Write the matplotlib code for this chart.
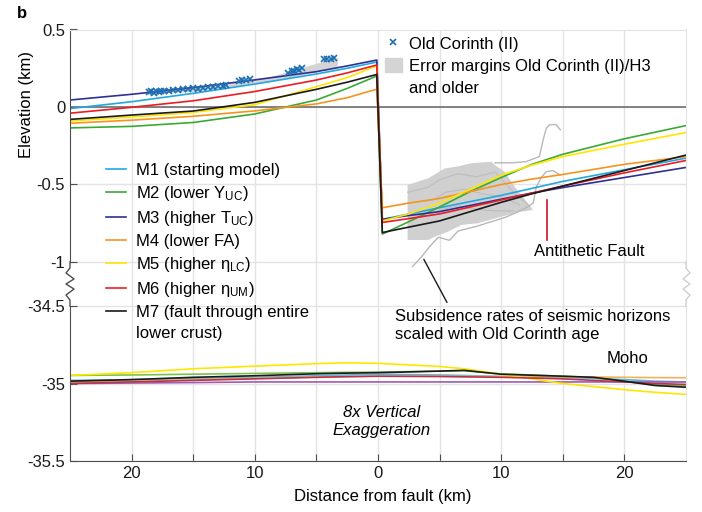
import matplotlib.pyplot as plt
from matplotlib.lines import Line2D
from matplotlib.patches import ConnectionPatch, Patch

plt.rcParams["font.family"] = ["Liberation Sans", "DejaVu Sans"]
plt.rcParams["axes.unicode_minus"] = False
plt.rcParams["mathtext.fontset"] = "custom"
plt.rcParams["mathtext.rm"] = "Liberation Sans"
plt.rcParams["mathtext.it"] = "Liberation Sans:italic"

# ---- data ---------------------------------------------------------------
models = ["M1", "M2", "M3", "M4", "M5", "M6", "M7"]
labels = [
    "M1 (starting model)",
    "M2 (lower Y$_{\\rm UC}$)",
    "M3 (higher T$_{\\rm UC}$)",
    "M4 (lower FA)",
    "M5 (higher η$_{\\rm LC}$)",
    "M6 (higher η$_{\\rm UM}$)",
    "M7 (fault through entire",
]
label_tail = "lower crust)"
colors = ["#22a8e0", "#3aaa35", "#2e3192", "#f7941d", "#ffe600", "#ed1c24", "#1a1a1a"]
moho_colors = ["#4fb6e3", "#7cc24a", "#a05cb0", "#f2b25a", "#ffe600", "#b8334f", "#1a1a1a"]

# footwall (x < 0) and hanging wall (x > 0) surface elevation, km
foot_x = [-25, -20, -15, -10, -5, -2.5, -0.1]
foot_y = {
    "M1": [-0.01, 0.034, 0.088, 0.148, 0.213, 0.25, 0.29],
    "M2": [-0.135, -0.125, -0.10, -0.045, 0.045, 0.12, 0.20],
    "M3": [0.045, 0.082, 0.125, 0.175, 0.228, 0.265, 0.303],
    "M4": [-0.105, -0.085, -0.06, -0.025, 0.02, 0.06, 0.115],
    "M5": [-0.09, -0.065, -0.035, 0.015, 0.131, 0.19, 0.265],
    "M6": [-0.04, -0.002, 0.04, 0.10, 0.174, 0.22, 0.271],
    "M7": [-0.08, -0.052, -0.026, 0.03, 0.114, 0.16, 0.21],
}
hang_x = [0.35, 2.5, 5, 7.5, 10, 12.5, 15, 20, 25]
hang_y = {
    "M1": [-0.725, -0.69, -0.65, -0.61, -0.57, -0.525, -0.48, -0.405, -0.33],
    "M2": [-0.82, -0.74, -0.645, -0.545, -0.455, -0.37, -0.305, -0.205, -0.12],
    "M3": [-0.725, -0.70, -0.675, -0.635, -0.595, -0.555, -0.52, -0.455, -0.39],
    "M4": [-0.65, -0.62, -0.59, -0.545, -0.50, -0.465, -0.435, -0.37, -0.32],
    "M5": [-0.735, -0.69, -0.62, -0.53, -0.44, -0.375, -0.32, -0.24, -0.165],
    "M6": [-0.745, -0.72, -0.69, -0.645, -0.60, -0.555, -0.51, -0.425, -0.345],
    "M7": [-0.81, -0.775, -0.735, -0.675, -0.615, -0.56, -0.51, -0.41, -0.31],
}

# Moho depth, km
moho_x = [-25, -20, -15, -10, -5, -2.5, 0, 5, 7, 10, 15, 17.5, 20, 22.5, 25]
moho_y = {
    "M1": [-34.98, -34.975, -34.968, -34.96, -34.95, -34.945, -34.94, -34.945,
           -34.948, -34.955, -34.96, -34.967, -34.975, -34.985, -34.99],
    "M2": [-34.948, -34.945, -34.94, -34.935, -34.93, -34.928, -34.927, -34.92,
           -34.918, -34.938, -34.953, -34.962, -34.985, -35.008, -35.015],
    "M3": [-35.0, -34.997, -34.994, -34.99, -34.99, -34.99, -34.99, -34.99,
           -34.99, -34.99, -34.99, -34.99, -34.99, -34.99, -34.99],
    "M4": [-34.99, -34.985, -34.975, -34.966, -34.958, -34.955, -34.953, -34.953,
           -34.954, -34.955, -34.957, -34.958, -34.96, -34.962, -34.963],
    "M5": [-34.948, -34.93, -34.905, -34.888, -34.872, -34.866, -34.87, -34.89,
           -34.905, -34.94, -35.0, -35.02, -35.04, -35.057, -35.07],
    "M6": [-35.0, -34.99, -34.98, -34.97, -34.96, -34.956, -34.953, -34.955,
           -34.957, -34.96, -34.97, -34.98, -34.99, -35.0, -35.006],
    "M7": [-34.985, -34.975, -34.96, -34.95, -34.937, -34.933, -34.93, -34.92,
           -34.915, -34.94, -34.953, -34.96, -34.985, -35.013, -35.024],
}

# Old Corinth (II) terrace points
corinth_x = [-18.6, -18.4, -18.2, -18.0, -17.8, -17.6, -17.4, -17.0, -16.6, -16.2,
             -15.8, -15.4, -15.0, -14.6, -14.2, -13.8, -13.4, -13.0, -12.6, -12.3,
             -11.3, -11.0, -10.7, -10.4, -7.3, -7.0, -6.8, -6.6, -6.4, -6.2,
             -4.4, -4.1, -3.8, -3.6]
corinth_y = [0.095, 0.10, 0.092, 0.10, 0.097, 0.104, 0.10, 0.105, 0.11, 0.108,
             0.115, 0.113, 0.12, 0.118, 0.125, 0.127, 0.13, 0.135, 0.138, 0.145,
             0.168, 0.175, 0.172, 0.178, 0.222, 0.23, 0.235, 0.245, 0.24, 0.25,
             0.308, 0.312, 0.31, 0.314]
err_x = [-18.8, -15, -12, -9, -6, -3.3]
err_lo = [0.085, 0.10, 0.13, 0.16, 0.21, 0.26]
err_hi = [0.115, 0.13, 0.155, 0.19, 0.26, 0.32]

# seismic horizons (hanging wall)
horizon_fill_x = [2.40, 4.08, 5.43, 6.37, 7.58, 9.2, 9.47, 10.28, 11.09, 12.17, 12.58,
                  11.63, 10.0, 8.12, 6.77, 5.69, 4.62, 4.08, 2.40]
horizon_fill_y = [-0.503, -0.46, -0.396, -0.385, -0.363, -0.353, -0.374, -0.417, -0.514,
                  -0.621, -0.665, -0.675, -0.708, -0.75, -0.761, -0.804, -0.837, -0.858,
                  -0.858]
horizon_lines = [
    ([2.8, 3.6, 4.2, 4.9, 5.8, 6.5, 8.0, 10.4, 11.8, 12.6, 12.85, 13.3, 13.66, 14.2, 14.8],
     [-1.03, -0.96, -0.90, -0.84, -0.86, -0.80, -0.77, -0.71, -0.66, -0.62, -0.514, -0.45,
      -0.417, -0.41, -0.44]),
    ([9.5, 10.9, 12.0, 13.1, 13.4, 13.66, 13.9, 14.44, 14.8],
     [-0.36, -0.36, -0.353, -0.32, -0.213, -0.138, -0.116, -0.112, -0.148]),
]
horizon_inner = [
    ([2.4, 4.0, 5.0, 6.5, 8.0, 9.5, 11.0, 12.3],
     [-0.55, -0.52, -0.47, -0.43, -0.45, -0.42, -0.55, -0.64]),
    ([2.4, 4.5, 5.5, 7.0, 8.5, 10.0, 11.5],
     [-0.62, -0.60, -0.55, -0.53, -0.56, -0.58, -0.63]),
    ([2.4, 4.0, 5.2, 6.5, 8.0, 9.5, 11.0],
     [-0.70, -0.70, -0.66, -0.64, -0.66, -0.67, -0.67]),
]

# ---- figure --------------------------------------------------------------
W, H = 702, 512
fig = plt.figure(figsize=(W / 100, H / 100), dpi=100)

px_left, px_right = 70, 686
py_top, py_split, py_bot = 29.5, 284, 461
ax_top = fig.add_axes([px_left / W, 1 - py_split / H, (px_right - px_left) / W,
                       (py_split - py_top) / H])
ax_bot = fig.add_axes([px_left / W, 1 - py_bot / H, (px_right - px_left) / W,
                       (py_bot - py_split) / H])

spine_c = "#4d4d4d"
grid_c = "#e3e3e3"
fs = 12

for ax in (ax_top, ax_bot):
    ax.set_xlim(-25, 25)
    ax.set_facecolor("none")
    ax.set_xticks([-20, -15, -10, -5, 0, 5, 10, 15, 20])
    ax.grid(True, color=grid_c, lw=1.0)
    ax.set_axisbelow(True)
    ax.tick_params(direction="in", length=5, color=spine_c, labelsize=fs,
                   labelcolor="#1a1a1a")
    ax.spines["left"].set_color(spine_c)
    ax.spines["bottom"].set_color(spine_c)
    ax.spines["right"].set_color(grid_c)
    ax.spines["top"].set_color(grid_c)

ax_top.set_ylim(-1.142, 0.5)
ax_top.set_yticks([-1, -0.5, 0, 0.5])
ax_top.set_yticklabels(["-1", "-0.5", "0", "0.5"])
ax_top.spines["left"].set_bounds(-1, 0.5)
ax_top.spines["right"].set_bounds(-1, 0.5)
ax_top.spines["bottom"].set_visible(False)
ax_top.tick_params(axis="x", length=0, labelbottom=False)

ax_bot.set_ylim(-35.5, -34.358)
ax_bot.set_yticks([-35.5, -35, -34.5])
ax_bot.set_yticklabels(["-35.5", "-35", "-34.5"])
ax_bot.spines["left"].set_bounds(-35.5, -34.5)
ax_bot.spines["right"].set_bounds(-35.5, -34.5)
ax_bot.spines["top"].set_visible(False)
ax_bot.set_xticklabels(["20", "", "10", "", "0", "", "10", "", "20"])

# sea level
ax_top.axhline(0, color="#6e6e6e", lw=1.2, zorder=1.5)

# Old Corinth error band and points
ax_top.fill_between(err_x, err_lo, err_hi, color="#d4d4d4", lw=0, zorder=1.6)
ax_top.plot(corinth_x, corinth_y, ls="none", marker="x", ms=4, mew=1.2,
            color="#1f6fb5", zorder=3)

# seismic horizons
ax_top.fill(horizon_fill_x, horizon_fill_y, color="#d0d0d0", lw=0, zorder=1.6)
for hx, hy in horizon_inner:
    ax_top.plot(hx, hy, color="#bdbdbd", lw=0.8, zorder=1.7)
for hx, hy in horizon_lines:
    ax_top.plot(hx, hy, color="#b8b8b8", lw=1.0, zorder=1.7)

# model surfaces and Moho
for m, c, mc in zip(models, colors, moho_colors):
    ax_top.plot(foot_x + hang_x, foot_y[m] + hang_y[m], color=c, lw=1.2, zorder=2)
    ax_bot.plot(moho_x, moho_y[m], color=mc, lw=1.2, zorder=2)

# antithetic fault
ax_top.plot([13.7, 13.7], [-0.60, -0.858], color="#d0102a", lw=1.2, zorder=2)
ax_top.text(12.7, -0.935, "Antithetic Fault", fontsize=fs, va="center", ha="left")

ax_bot.text(1.38, -34.626, "Subsidence rates of seismic horizons\nscaled with Old Corinth age",
            fontsize=fs, va="center", ha="left", linespacing=1.2)
con = ConnectionPatch(xyA=(3.72, -0.983), coordsA=ax_top.transData,
                      xyB=(5.6, -34.477), coordsB=ax_bot.transData,
                      color="#1a1a1a", lw=1.0)
fig.add_artist(con)

ax_bot.text(18.55, -34.84, "Moho", fontsize=fs, va="center", ha="left")
ax_bot.text(0.3, -35.245, "8x Vertical\nExaggeration", fontsize=fs, style="italic",
            va="center", ha="center", multialignment="center", linespacing=1.2)


# broken-axis zigzags
def fig_line(xs, ys, color):
    fig.add_artist(Line2D([x / W for x in xs], [1 - y / H for y in ys],
                          color=color, lw=1.0, transform=fig.transFigure))


fig_line([70, 70, 66, 74, 66, 74, 66, 70, 70],
         [262, 268, 273, 279, 284, 289, 295, 300, 306], spine_c)
fig_line([686, 686, 690, 683, 690, 683, 690, 686, 686],
         [262, 268, 273, 279, 284, 289, 295, 300, 306], "#cfcfcf")

# legends (second line of a two-line label gets an empty handle)
blank = Line2D([], [], ls="none")
model_handles = [Line2D([], [], color=c, lw=1.2) for c in colors] + [blank]
fig.legend(model_handles, labels + [label_tail], loc="upper left",
           bbox_to_anchor=(106 / W, 1 - 163 / H), frameon=False, fontsize=fs,
           handlelength=1.2, handletextpad=0.6, labelspacing=0.36,
           borderpad=0, borderaxespad=0)

data_handles = [Line2D([], [], ls="none", marker="x", ms=4, mew=1.2, color="#1f6fb5"),
                Patch(color="#d4d4d4"), blank]
fig.legend(data_handles, ["Old Corinth (II)", "Error margins Old Corinth (II)/H3",
                          "and older"],
           loc="upper left", bbox_to_anchor=(385 / W, 1 - 36 / H), frameon=False,
           fontsize=fs, handlelength=1.0, handleheight=0.9, handletextpad=0.45,
           labelspacing=0.4, borderpad=0, borderaxespad=0)

fig.text(27 / W, 1 - 105 / H, "Elevation (km)", rotation=90, fontsize=fs,
         ha="center", va="center")
fig.text(383 / W, 1 - 497 / H, "Distance from fault (km)", fontsize=fs,
         ha="center", va="center")
fig.text(17 / W, 1 - 13 / H, "b", fontsize=fs, fontweight="bold", ha="left", va="center")

fig.savefig("out.png", dpi=100)
